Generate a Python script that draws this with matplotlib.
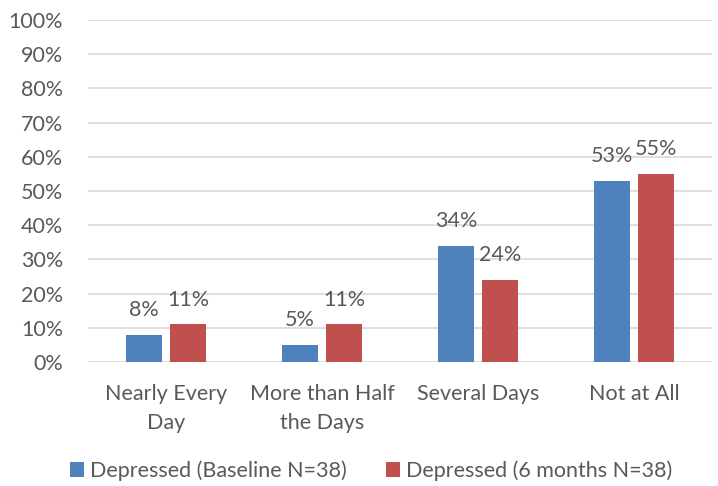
import matplotlib.pyplot as plt
import numpy as np

plt.rcParams['font.family'] = ['Lato', 'DejaVu Sans']

categories = ['Nearly Every\nDay', 'More than Half\nthe Days', 'Several Days', 'Not at All']
baseline = [8, 5, 34, 53]
six_months = [11, 11, 24, 55]
series_names = ['Depressed (Baseline N=38)', 'Depressed (6 months N=38)']
colors = ['#4F81BD', '#C0504D']
text_color = '#595959'

fig = plt.figure(figsize=(7.18, 4.86), dpi=100)
ax = fig.add_axes([0.1226, 0.255, 0.869, 0.704])

x = np.arange(len(categories))
w = 0.23
off = 0.141
b1 = ax.bar(x - off, baseline, w, color=colors[0], label=series_names[0], zorder=3)
b2 = ax.bar(x + off, six_months, w, color=colors[1], label=series_names[1], zorder=3)

for bars, vals in [(b1, baseline), (b2, six_months)]:
    for rect, v in zip(bars, vals):
        ax.text(rect.get_x() + rect.get_width() / 2, v + 4.3, f'{v}%',
                ha='center', va='bottom', fontsize=15.5, color=text_color)

ax.set_ylim(0, 100)
ax.set_xlim(-0.5, 3.5)
ax.set_yticks(range(0, 101, 10))
ax.set_yticklabels([f'{t}%' for t in range(0, 101, 10)])
ax.set_xticks(x)
ax.set_xticklabels(categories, linespacing=1.55)
ax.tick_params(axis='both', length=0, labelsize=15.5, labelcolor=text_color)
ax.tick_params(axis='y', pad=18)
ax.tick_params(axis='x', pad=16)
ax.grid(axis='y', color='#D9D9D9', linewidth=1.2, zorder=0)
for s in ax.spines.values():
    s.set_visible(False)

fig.legend(loc='lower center', bbox_to_anchor=(0.517, -0.03), ncol=2, frameon=False,
           fontsize=15.5, labelcolor=text_color, handlelength=0.65, handleheight=0.65,
           handletextpad=0.3, columnspacing=1.8)

fig.savefig('out.png', dpi=100)
